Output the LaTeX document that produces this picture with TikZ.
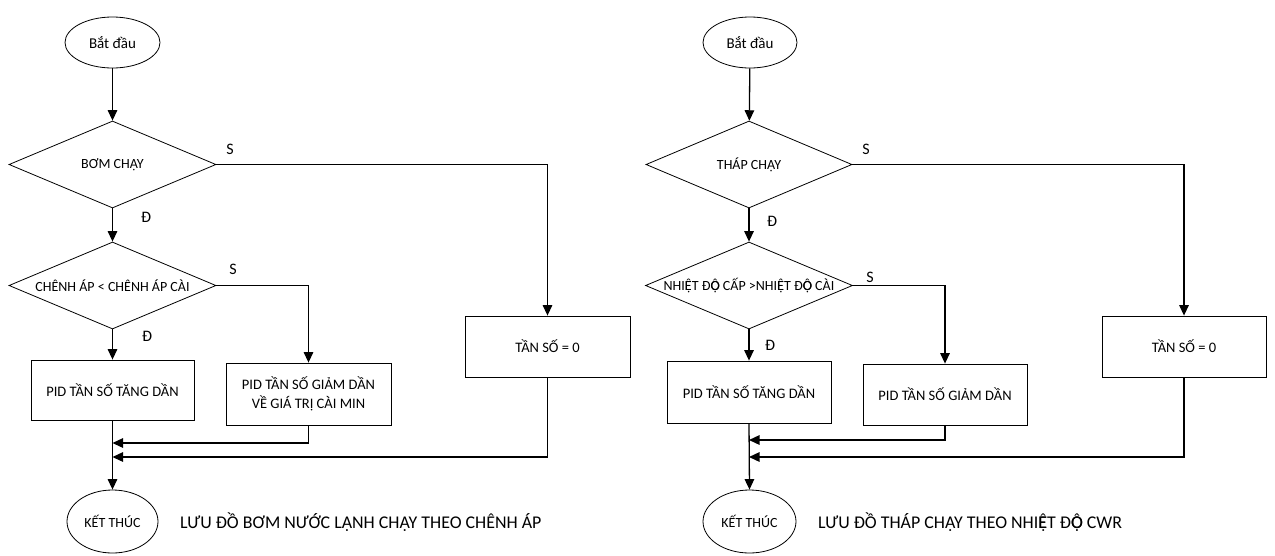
\documentclass[tikz,border=0pt]{standalone}
\usepackage{fontspec}
\setmainfont{Carlito}
\usetikzlibrary{shapes.geometric,arrows.meta,positioning}
% Carlito lacks the circumflex on E/O with dot below: overlay them
\newcommand\myEcd{\rlap{Ê}Ẹ}
\newcommand\myOcd{\rlap{Ô}Ọ}
\tikzset{
  base/.style={draw, line width=0.8pt, inner sep=0pt, align=center},
  term/.style={base, ellipse, font=\fontsize{14}{16}\selectfont},
  dec/.style={base, diamond},
  dectxt/.style={inner sep=0pt, font=\fontsize{14}{16}\selectfont},
  proc/.style={base, rectangle, font=\fontsize{14.5}{19}\selectfont},
  lbl/.style={inner sep=0pt, font=\fontsize{16}{18}\selectfont},
  captxt/.style={inner sep=0pt, anchor=west, font=\fontsize{17.9}{20}\selectfont},
  arr/.style={line width=1.3pt, -{Triangle[length=10.5pt,width=9.5pt]}}
}
\begin{document}
\begin{tikzpicture}[x=1pt,y=-1pt]
\useasboundingbox (0,0) rectangle (1275,555);
% ---------- left chart ----------
\node[term, minimum width=95pt, minimum height=51pt] (s1) at (112.5,42.5) {\fontsize{15}{17}\selectfont Bắt đầu};
\node[dec, minimum width=207pt, minimum height=87pt, label={[dectxt]center:BƠM CHẠY}] (d1) at (112.5,164.5) {};
\node[dec, minimum width=207pt, minimum height=87pt, label={[dectxt]center:CHÊNH ÁP < CHÊNH ÁP CÀI}] (d2) at (112.5,285.5) {};
\node[proc, minimum width=163pt, minimum height=60pt] (b1) at (112.5,390) {PID TẦN SỐ TĂNG DẦN};
\node[proc, minimum width=165pt, minimum height=62pt] (b2) at (308.5,394) {PID TẦN SỐ GIẢM DẦN\\VỀ GIÁ TRỊ CÀI MIN};
\node[proc, minimum width=165pt, minimum height=61pt] (b3) at (547.5,346.5) {TẦN SỐ = 0};
\node[term, minimum width=91pt, minimum height=63pt] (e1) at (112.5,521.5) {KẾT THÚC};
\node[captxt] (c1) at (180,522) {LƯU ĐỒ BƠM NƯỚC LẠNH CHẠY THEO CHÊNH ÁP};
\node[lbl] (l1) at (230,149) {S};
\node[lbl] (l2) at (146,217) {Đ};
\node[lbl] (l3) at (233,269) {S};
\node[lbl] (l4) at (147,336) {Đ};
\coordinate (j1) at (112.5,443);
\coordinate (j2) at (112.5,457);
\draw[arr] (s1) -- (d1);
\draw[arr] (d1.east) -| (b3.north);
\draw[arr] (d1.south) -- (d2.north);
\draw[arr] (d2.east) -| (b2.north);
\draw[arr] (d2.south) -- (b1.north);
\draw[arr] (b1.south) -- (e1.north);
\draw[arr] (b2.south) |- (j1);
\draw[arr] (b3.south) |- (j2);
% ---------- right chart ----------
\node[term, minimum width=94pt, minimum height=51pt] (s2) at (750,42.5) {\fontsize{15}{17}\selectfont Bắt đầu};
\node[dec, minimum width=206pt, minimum height=87pt, label={[dectxt]center:THÁP CHẠY}] (d3) at (749,164.5) {};
\node[dec, minimum width=207pt, minimum height=87pt, label={[dectxt]center:NHI\myEcd T Đ\myOcd{} CẤP >NHI\myEcd T Đ\myOcd{} CÀI}] (d4) at (749,285.5) {};
\node[proc, minimum width=164pt, minimum height=62pt] (b4) at (749,392) {PID TẦN SỐ TĂNG DẦN};
\node[proc, minimum width=164pt, minimum height=61pt] (b5) at (945,394.5) {PID TẦN SỐ GIẢM DẦN};
\node[proc, minimum width=164pt, minimum height=61pt] (b6) at (1184,346.5) {TẦN SỐ = 0};
\node[term, minimum width=93pt, minimum height=63pt] (e2) at (749.5,521.5) {KẾT THÚC};
\node[captxt] (c2) at (818,522) {LƯU ĐỒ THÁP CHẠY THEO NHI\myEcd T Đ\myOcd{} CWR};
\node[lbl] (l5) at (866,149) {S};
\node[lbl] (l6) at (772,221) {Đ};
\node[lbl] (l7) at (870,277) {S};
\node[lbl] (l8) at (770,345) {Đ};
\coordinate (j3) at (749,440);
\coordinate (j4) at (749,457);
\draw[arr] (s2) -- (d3);
\draw[arr] (d3.east) -| (b6.north);
\draw[arr] (d3.south) -- (d4.north);
\draw[arr] (d4.east) -| (b5.north);
\draw[arr] (d4.south) -- (b4.north);
\draw[arr] (b4.south) -- (e2.north);
\draw[arr] (b5.south) |- (j3);
\draw[arr] (b6.south) |- (j4);
\end{tikzpicture}
\end{document}
